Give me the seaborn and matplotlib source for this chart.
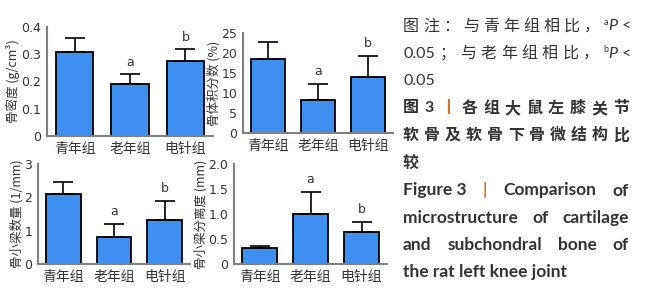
import matplotlib
matplotlib.use("Agg")
import matplotlib.pyplot as plt
import seaborn as sns

# data
groups = ["青年组", "老年组", "电针组"]
letters = ["", "a", "b"]

bmd = [0.31, 0.19, 0.275]
bmd_sd = [0.051, 0.036, 0.043]
bvtv = [18.5, 8.2, 14.0]
bvtv_sd = [4.25, 4.15, 5.3]
tbn = [2.11, 0.80, 1.33]
tbn_sd = [0.36, 0.41, 0.57]
tbsp = [0.33, 1.0, 0.645]
tbsp_sd = [0.04, 0.45, 0.2]

BLUE = "#3f8ff0"
GRAY = "#808080"
TXT = "#333333"
ORANGE = "#e0701e"
CJK = ["Noto Sans CJK SC", "DejaVu Sans"]
CAP = ["Lato", "Noto Sans CJK SC"]

sns.set_style("white")
plt.rcParams["font.family"] = CJK


def bar_panel(ax, vals, sds, ylim, ticks, ticklabels, ylabel):
    sns.barplot(x=groups, y=vals, ax=ax, color=BLUE, edgecolor="black",
                linewidth=1.3, width=0.68, saturation=1)
    ax.errorbar(range(len(vals)), vals, yerr=[[0] * len(sds), sds], fmt="none",
                ecolor="black", elinewidth=1.2, capsize=7, capthick=1.2, zorder=1)
    for i, (v, s, lab) in enumerate(zip(vals, sds, letters)):
        if lab:
            ax.annotate(lab, (i, v + s), xytext=(0, 4), textcoords="offset points",
                        ha="center", va="bottom", fontsize=9, color=TXT,
                        family=["DejaVu Sans"])
    ax.set_xlim(-0.5, 2.5)
    ax.set_ylim(*ylim)
    ax.set_yticks(ticks, ticklabels)
    ax.set_ylabel(ylabel, fontsize=9, color=TXT, labelpad=1)
    ax.set_xlabel("")
    sns.despine(ax=ax)
    for sp in ("left", "bottom"):
        ax.spines[sp].set_color(GRAY)
        ax.spines[sp].set_linewidth(1.5)
    ax.tick_params(axis="y", length=3, width=1, color=GRAY, labelsize=9,
                   labelcolor=TXT, pad=1)
    ax.tick_params(axis="x", length=3, width=1, color=GRAY, labelsize=10,
                   labelcolor=TXT, pad=1)
    for t in ax.get_yticklabels():
        t.set_family(["DejaVu Sans"])


fig = plt.figure(figsize=(6.49, 3.0), dpi=100)
W, H = 649, 300


def axes_px(x0, y0, x1, y1):
    return fig.add_axes([x0 / W, 1 - y1 / H, (x1 - x0) / W, (y1 - y0) / H])


ax1 = axes_px(47, 27, 213, 136)
ax2 = axes_px(243, 33, 393, 133)
ax3 = axes_px(38, 164, 190, 264)
ax4 = axes_px(234, 164, 387, 264)

bar_panel(ax1, bmd, bmd_sd, (0, 0.4), [0, 0.1, 0.2, 0.3, 0.4],
          ["0", "0.1", "0.2", "0.3", "0.4"], "骨密度 (g/cm³)")
bar_panel(ax2, bvtv, bvtv_sd, (0, 25), [0, 5, 10, 15, 20, 25],
          ["0", "5", "10", "15", "20", "25"], "骨体积分数 (%)")
bar_panel(ax3, tbn, tbn_sd, (0, 3), [0, 1, 2, 3],
          ["0", "1", "2", "3"], "骨小梁数量 (1/mm)")
bar_panel(ax4, tbsp, tbsp_sd, (0, 2), [0, 0.5, 1.0, 1.5, 2.0],
          ["0", "0.5", "1.0", "1.5", "2.0"], "骨小梁分离度 (mm)")

# caption, justified by hand
renderer = fig.canvas.get_renderer()


def put_line(yc, parts, x0=403, x1=None, size=11.5, weight="normal"):
    arts = []
    for p in parts:
        s, kw = p[0], dict(p[1]) if len(p) > 1 else {}
        glue = p[2] if len(p) > 2 else False
        dy = kw.pop("dy", 0)
        kw.setdefault("fontsize", size)
        kw.setdefault("weight", weight)
        kw.setdefault("color", TXT)
        kw.setdefault("family", CAP)
        t = fig.text(0, 0, s, transform=None, va="center", ha="left", **kw)
        arts.append((t, glue, dy))
    widths = [t.get_window_extent(renderer).width for t, _, _ in arts]
    ngaps = sum(1 for i, (_, g, _) in enumerate(arts) if i > 0 and not g)
    gap = 0
    if x1 is not None and ngaps:
        gap = (x1 - x0 - sum(widths)) / ngaps
    x = x0
    for i, ((t, g, dy), w) in enumerate(zip(arts, widths)):
        if i > 0 and not g:
            x += gap
        t.set_position((x, H - yc + dy))
        x += w


sup = {"fontsize": 6.5, "dy": 4}
ital = {"style": "italic"}
orange = {"color": ORANGE}

put_line(26.5, [(c,) for c in "图注：与青年组相比，"] +
         [("a", sup), ("P", ital, True), (" <", {}, True)], x1=631)
put_line(53.8, [("0.05",)] + [(c,) for c in "；与老年组相比，"] +
         [("b", sup), ("P", ital, True), (" <", {}, True)], x1=631)
put_line(81, [("0.05",)])
put_line(108.4, [("图",), ("3",), ("丨", orange)] + [(c,) for c in "各组大鼠左膝关节"],
         x1=629, weight="bold")
put_line(135.7, [(c,) for c in "软骨及软骨下骨微结构比"], x1=629, weight="bold")
put_line(163, [("较",)], weight="bold")
put_line(190.5, [("Figure 3",), ("|", orange), ("Comparison",), ("of",)],
         x1=629, weight="bold", size=12.5)
put_line(218, [("microstructure",), ("of",), ("cartilage",)],
         x1=629, weight="bold", size=12.5)
put_line(245, [("and",), ("subchondral",), ("bone",), ("of",)],
         x1=629, weight="bold", size=12.5)
put_line(272.5, [("the rat left knee joint",)], weight="bold", size=12.5)

fig.savefig("out.png", dpi=100)
